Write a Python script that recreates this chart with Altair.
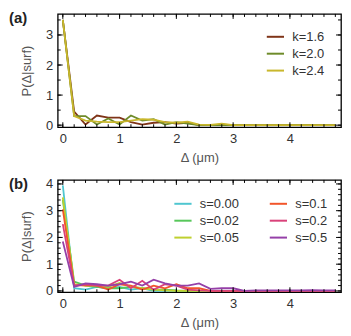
import altair as alt
import pandas as pd

# ---------------- data ----------------
delta = [round(0.2 * i, 1) for i in range(25)]

k_labels = ["k=1.6", "k=2.0", "k=2.4"]
k_colors = ["#7F3418", "#6E8B2A", "#C9B72C"]
k16 = [3.5, 0.45, 0.02, 0.32, 0.25, 0.25, 0.10, 0.02, 0.08, 0.10, 0.05, 0.08, 0.0,
       0.0, 0.02, 0.0, 0.0, 0.0, 0.0, 0.0, 0.0, 0.0, 0.0, 0.0, 0.0]
k20 = [3.5, 0.30, 0.30, 0.02, 0.22, 0.02, 0.32, 0.15, 0.20, 0.02, 0.10, 0.05, 0.0,
       0.0, 0.0, 0.0, 0.0, 0.0, 0.0, 0.0, 0.0, 0.0, 0.0, 0.0, 0.0]
k24 = [3.5, 0.30, 0.15, 0.12, 0.10, 0.10, 0.15, 0.20, 0.18, 0.10, 0.08, 0.12, 0.02,
       0.01, 0.05, 0.0, 0.0, 0.0, 0.0, 0.0, 0.0, 0.0, 0.0, 0.0, 0.0]

s_labels = ["s=0.00", "s=0.02", "s=0.05", "s=0.1", "s=0.2", "s=0.5"]
s_colors = ["#4FC6D0", "#57C75A", "#BFD02F", "#F2552A", "#D9427A", "#9540A8"]
s000 = [3.95, 0.10, 0.05, 0.15, 0.10, 0.15, 0.05, 0.10, 0.0, 0.0, 0.0, 0.0, 0.0,
        0.0, 0.0, 0.0, 0.0, 0.0, 0.0, 0.0, 0.0, 0.0, 0.0, 0.0, 0.0]
s002 = [3.4, 0.35, 0.20, 0.15, 0.10, 0.10, 0.15, 0.10, 0.05, 0.05, 0.02, 0.0, 0.0,
        0.0, 0.0, 0.0, 0.0, 0.0, 0.0, 0.0, 0.0, 0.0, 0.0, 0.0, 0.0]
s005 = [3.5, 0.25, 0.20, 0.20, 0.15, 0.30, 0.15, 0.10, 0.05, 0.02, 0.0, 0.0, 0.0,
        0.0, 0.0, 0.0, 0.0, 0.0, 0.0, 0.0, 0.0, 0.0, 0.0, 0.0, 0.0]
s01 = [3.05, 0.20, 0.22, 0.20, 0.05, 0.25, 0.20, 0.05, 0.20, 0.10, 0.25, 0.10, 0.10,
       0.0, 0.0, 0.0, 0.0, 0.0, 0.0, 0.0, 0.0, 0.0, 0.0, 0.0, 0.0]
s02 = [2.5, 0.20, 0.25, 0.20, 0.20, 0.42, 0.10, 0.38, 0.05, 0.25, 0.20, 0.05, 0.02,
       0.0, 0.0, 0.0, 0.0, 0.0, 0.0, 0.0, 0.0, 0.0, 0.0, 0.0, 0.0]
s05 = [1.85, 0.15, 0.28, 0.25, 0.20, 0.25, 0.35, 0.20, 0.42, 0.28, 0.20, 0.20, 0.28,
       0.08, 0.10, 0.10, 0.0, 0.02, 0.02, 0.02, 0.02, 0.02, 0.03, 0.02, 0.02]

x_major = [0, 1, 2, 3, 4]
x_minor = [round(0.2 * i, 1) for i in range(25)]
ya_major = [0, 1, 2, 3]
ya_minor = [0.5 * i for i in range(8)]
yb_major = [0, 1, 2, 3, 4]
yb_minor = [round(0.2 * i, 1) for i in range(21)]

FONT = "Liberation Sans"
W = 285
HA = 114
HB = 113
XDOM = [-0.09, 4.9]


def long_df(labels, series):
    rows = []
    for lab, vals in zip(labels, series):
        for x, v in zip(delta, vals):
            rows.append({"delta": x, "p": v, "series": lab})
    return pd.DataFrame(rows)


def panel(df, labels, colors, ydom, yvals, yminor, H, tag, lx, ly, cols, colpad):
    xax = alt.Axis(values=x_major, title="Δ (μm)", ticks=False, domain=False,
                   grid=False, labelPadding=5, titlePadding=6, format="d")
    yax = alt.Axis(values=yvals, title="P(Δ|surf)", ticks=False, domain=False,
                   grid=False, labelPadding=5, titlePadding=12, format="d")
    xsc = alt.Scale(domain=XDOM, nice=False, zero=False)
    ysc = alt.Scale(domain=ydom, nice=False, zero=False)
    X = alt.X("delta:Q", scale=xsc, axis=xax)
    Y = alt.Y("p:Q", scale=ysc, axis=yax)

    lines = alt.Chart(df).mark_line(strokeWidth=1.8, clip=True).encode(
        x=X, y=Y,
        color=alt.Color("series:N",
                        scale=alt.Scale(domain=labels, range=colors),
                        legend=alt.Legend(title=None, orient="none", legendX=lx, legendY=ly,
                                          columns=cols, columnPadding=colpad,
                                          symbolType="stroke", symbolSize=300,
                                          symbolStrokeWidth=2, labelFontSize=13,
                                          labelFont=FONT, labelColor="#333333",
                                          labelOffset=7, rowPadding=0, padding=0)),
        order=alt.Order("delta:Q"),
    )

    layers = [lines]
    for vals, ln in ((x_major, 5), (x_minor, 3)):
        d = pd.DataFrame({"delta": vals})
        layers.append(alt.Chart(d).mark_rule(color="black", strokeWidth=1).encode(
            x=X, y=alt.value(H), y2=alt.value(H - ln)))
        layers.append(alt.Chart(d).mark_rule(color="black", strokeWidth=1).encode(
            x=X, y=alt.value(0), y2=alt.value(ln)))
    for vals, ln in ((yvals, 5), (yminor, 3)):
        d = pd.DataFrame({"p": vals})
        layers.append(alt.Chart(d).mark_rule(color="black", strokeWidth=1).encode(
            y=Y, x=alt.value(0), x2=alt.value(ln)))
        layers.append(alt.Chart(d).mark_rule(color="black", strokeWidth=1).encode(
            y=Y, x=alt.value(W), x2=alt.value(W - ln)))

    tag_df = pd.DataFrame({"tag": [tag]})
    layers.append(alt.Chart(tag_df).mark_text(
        font=FONT, fontSize=15, fontWeight="bold", align="left", baseline="middle",
        color="#222222").encode(x=alt.value(-49), y=alt.value(4), text="tag:N"))
    return alt.layer(*layers).properties(width=W, height=H)


dfa = long_df(k_labels, [k16, k20, k24])
dfb = long_df(s_labels, [s000, s002, s005, s01, s02, s05])

pa = panel(dfa, k_labels, k_colors, [-0.07, 3.7], ya_major, ya_minor, HA, "(a)",
           209, 13, 1, 10)
pb = panel(dfb, s_labels, s_colors, [-0.05, 4.15], yb_major, yb_minor, HB, "(b)",
           116, 14, 2, 26)

chart = alt.vconcat(pa, pb, spacing=11).resolve_scale(color="independent").properties(
    padding={"left": 0, "top": 1, "right": 0, "bottom": 0}
).configure_view(stroke="black", strokeWidth=1.3).configure_axis(
    labelFont=FONT, titleFont=FONT, labelFontSize=13, titleFontSize=13,
    labelColor="#333333", titleColor="#555555", titleFontWeight="normal"
)

chart.save("out.html", embed_options={"renderer": "svg", "actions": False})
